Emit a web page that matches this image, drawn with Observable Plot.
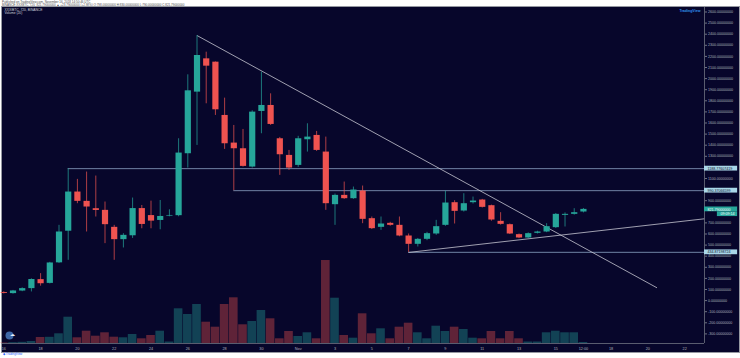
<!DOCTYPE html>
<html>
<head>
<meta charset="utf-8">
<script src="https://cdn.jsdelivr.net/npm/d3@7"></script>
<script src="https://cdn.jsdelivr.net/npm/@observablehq/plot@0.6"></script>
<style>
  html, body { margin: 0; padding: 0; background: #ffffff; }
  #wrap { position: relative; width: 740px; height: 358px; overflow: hidden; font-family: "Liberation Sans", Arial, sans-serif; }
  .hdr { position: absolute; left: 2px; font-size: 3px; line-height: 3px; color: #4a4a4a; white-space: nowrap; }
  #box { position: absolute; left: 1px; top: 6px; width: 737px; height: 345px; border: 1px solid #9598a1; background: #07062b; }
  #chart { position: absolute; left: 0; top: 0; }
  #foot { position: absolute; left: 3px; top: 353px; font-size: 3px; line-height: 3px; color: #2962ff; white-space: nowrap; }
</style>
</head>
<body>
<div id="wrap">
  <div class="hdr" style="top:0.5px">Published on TradingView.com, November 16, 2018 14:50:46 UTC</div>
  <div class="hdr" style="top:3.8px">BINANCE:XXXBTC, 720 &nbsp;821.79000000 ▲ +23.79000000 (+2.98%) O:798.00000000 H:830.00000000 L:790.00000000 C:821.79000000</div>
  <div id="box"><div id="chart"></div></div>
  <div id="foot">◆ TradingView</div>
</div>
<script>
// ---- data (12h candles from 16 Oct 2018) ----
const opens  = [72,63,86,108,189,155,340,625,978,894,828,813,660,549,584,829,766,722,761,765,1323,1878,2178,2148,1668,1419,1368,1203,1704,1758,1458,1308,1218,1449,1488,1338,864,948,918,987,738,660,696,678,582,507,552,600,678,882,807,882,906,855,714,684,594,564,606,618,657,768,777,798];
const highs  = [80,92,115,196,243,345,678,1188,1092,1158,1122,888,678,603,924,857,896,902,818,1458,2034,2388,2238,2150,1824,1578,1542,1710,2058,1863,1470,1353,1480,1593,1524,1473,960,1068,1023,1032,753,753,705,753,600,560,615,723,987,900,963,933,912,860,792,690,600,610,625,693,785,790,828,830];
const lows   = [60,58,80,78,130,150,335,363,873,618,753,513,363,474,560,647,647,638,755,755,1194,1398,1773,1668,1362,990,1203,1194,1503,1578,1128,1173,1200,1338,1344,813,678,912,912,693,640,633,670,575,434,483,540,588,669,690,798,870,834,715,680,595,558,560,600,612,650,663,770,790];
const closes = [64,87,108,190,152,339,618,978,894,843,812,684,549,588,829,686,716,758,767,1329,1890,2208,2112,1719,1413,1368,1209,1698,1758,1587,1314,1194,1458,1473,1353,873,948,918,996,732,648,690,678,582,507,552,603,666,879,804,873,897,840,726,687,600,564,603,618,666,777,777,792,821.79];
const volumes = [5,8,12,20,60,62,97,263,57,123,73,107,63,57,90,47,80,123,15,347,290,390,213,163,390,457,187,220,330,247,47,120,70,107,47,830,453,80,53,297,97,147,47,163,203,107,47,173,120,163,140,53,47,120,47,120,47,15,15,107,123,107,107,10];

// ticks hidden behind the highlighted price labels (1200, 1000, 800) are left out, as in the reference
const priceTicks = [2600,2500,2400,2300,2200,2100,2000,1900,1800,1700,1600,1500,1400,1300,1100,900,700,600,500,400,300,200,100,0,-100,-200,-300];
const timeTickDates  = ["2018-10-16","2018-10-18","2018-10-20","2018-10-22","2018-10-24","2018-10-26","2018-10-28","2018-10-30","2018-11-01","2018-11-03","2018-11-05","2018-11-07","2018-11-09","2018-11-11","2018-11-13","2018-11-15","2018-11-16T12:00","2018-11-18","2018-11-20","2018-11-22"];
const timeTickLabels = ["16","18","20","22","24","26","28","30","Nov","3","5","7","9","11","13","15","12:00","18","20","22"];

// horizontal levels: [start date, price]
const levelStarts = ["2018-10-19T12:00","2018-10-28T12:00","2018-11-07T00:00"];
const levelPrices = [1188.77607419, 990.37066599, 434.87198724];
// trend lines: start / end
const trendStarts = [["2018-10-26T12:00", 2388], ["2018-11-07T00:00", 434]];
const trendEnds   = [["2018-11-20T12:00", 115], ["2018-11-23T01:55", 737]];

const countdown = "09:09:14";

// ---- build ----
const HOUR = 3600e3, DAY = 24 * HOUR;
const T0 = Date.UTC(2018, 9, 16);
const utc = s => new Date(s + (s.length > 10 ? "Z" : "T00:00Z"));
const GREEN = "#26a69a", RED = "#ef5350";

const candles = opens.map((o, i) => ({
  date: new Date(T0 + i * 12 * HOUR),
  open: o, high: highs[i], low: lows[i], close: closes[i], volume: volumes[i],
  up: closes[i] >= o
}));
const xDomain = [new Date(T0 - 0.0707 * DAY), new Date(T0 + 38.08 * DAY)];
const yDomain = [-386.5, 2640.5];
const VOL_FRAC = 0.247; // volume overlay height, fraction of pane
const maxVol = d3.max(volumes);
const volTop = v => yDomain[0] + v / maxVol * VOL_FRAC * (yDomain[1] - yDomain[0]);

const levels = levelPrices.map((p, i) => ({from: utc(levelStarts[i]), price: p, label: p.toFixed(8)}));
const trends = trendStarts.map((s, i) => ({x1: utc(s[0]), y1: s[1], x2: utc(trendEnds[i][0]), y2: trendEnds[i][1]}));
const last = candles[candles.length - 1];
const tickLabelMap = new Map(timeTickDates.map((d, i) => [+utc(d), timeTickLabels[i]]));
const axisRight0 = xDomain[1];
const axisRight1 = new Date(+xDomain[1] + 1.8 * DAY);
const halfBox = 2.4 / 0.111;

const plot = Plot.plot({
  width: 737, height: 345,
  marginLeft: 0, marginRight: 35, marginTop: 0, marginBottom: 9,
  style: {background: "transparent", fontFamily: "Liberation Sans, Arial, sans-serif", overflow: "visible"},
  x: {type: "utc", domain: xDomain},
  y: {domain: yDomain},
  marks: [
    // volume overlay
    Plot.rect(candles, {
      x1: d => new Date(+d.date - 6 * HOUR), x2: d => new Date(+d.date + 6 * HOUR),
      y1: () => yDomain[0], y2: d => volTop(d.volume),
      fill: d => d.up ? GREEN : RED, fillOpacity: 0.38, insetLeft: 0.3, insetRight: 0.3
    }),
    // levels and trend lines
    Plot.ruleY(levels, {y: "price", x1: "from", x2: () => xDomain[1], stroke: "#8ba3c4", strokeWidth: 0.8}),
    Plot.link(trends, {x1: "x1", y1: "y1", x2: "x2", y2: "y2", stroke: "#c6c7d2", strokeWidth: 0.8}),
    // candles
    Plot.ruleX(candles, {x: "date", y1: "low", y2: "high", stroke: d => d.up ? GREEN : RED, strokeWidth: 0.9, strokeOpacity: 0.8}),
    Plot.ruleX(candles, {x: "date", y1: "open", y2: "close", stroke: d => d.up ? GREEN : RED, strokeWidth: 6.2}),
    // separators
    Plot.ruleX([xDomain[1]], {stroke: "#6f7282", strokeWidth: 0.8}),
    Plot.ruleY([yDomain[0]], {stroke: "#6f7282", strokeWidth: 0.8}),
    // axes
    Plot.axisY(priceTicks, {anchor: "right", tickSize: 2, tickPadding: 1.5, fontSize: 3.6, fill: "#aeb1bd", stroke: "#6f7282", tickFormat: d => d.toFixed(8)}),
    Plot.axisX(timeTickDates.map(utc), {anchor: "bottom", tickSize: 0, tickPadding: 4.2, fontSize: 3.8, fill: "#aeb1bd", tickFormat: d => tickLabelMap.get(+d)}),
    // price labels on axis
    Plot.rect(levels, {x1: () => axisRight0, x2: () => axisRight1, y1: d => d.price - halfBox, y2: d => d.price + halfBox, fill: "#a9d7e8"}),
    Plot.text(levels, {x: () => axisRight0, y: "price", text: "label", dx: 3, textAnchor: "start", fontSize: 3.6, fill: "#0b0b2a"}),
    Plot.rect([last], {x1: () => axisRight0, x2: () => axisRight1, y1: d => d.close - halfBox, y2: d => d.close + halfBox, fill: GREEN}),
    Plot.rect([last], {x1: () => new Date(+axisRight0 + 0.7 * DAY), x2: () => axisRight1, y1: d => d.close - 3 * halfBox, y2: d => d.close - halfBox, fill: GREEN}),
    Plot.text([last], {x: () => axisRight0, y: "close", text: d => d.close.toFixed(8), dx: 3, textAnchor: "start", fontSize: 3.6, fill: "#ffffff"}),
    Plot.text([last], {x: () => axisRight1, y: d => d.close - 2 * halfBox, text: () => countdown, dx: -3, textAnchor: "end", fontSize: 3.6, fill: "#ffffff"}),
    // legend / logos
    Plot.text(["XXX/BTC, 720, BINANCE"], {frameAnchor: "top-left", dx: 2, dy: 1, fontSize: 3.3, fill: "#cfd2dc", textAnchor: "start", lineAnchor: "top"}),
    Plot.text(["Volume (20)"], {frameAnchor: "top-left", dx: 2, dy: 4.6, fontSize: 3.3, fill: "#cfd2dc", textAnchor: "start", lineAnchor: "top"}),
    Plot.text(["TradingView"], {frameAnchor: "top-right", dx: -4, dy: 2, fontSize: 3.6, fill: "#2f8ff0", textAnchor: "end", lineAnchor: "top", fontWeight: "bold"}),
    Plot.dot([0], {frameAnchor: "bottom-left", dx: 7, dy: -8, r: 4, fill: "#3e67a6"}),
    Plot.text(["☁"], {frameAnchor: "bottom-left", dx: 7, dy: -8, fontSize: 4.5, fill: "#e8eefc"})
  ]
});
document.getElementById("chart").appendChild(plot);
</script>
</body>
</html>
